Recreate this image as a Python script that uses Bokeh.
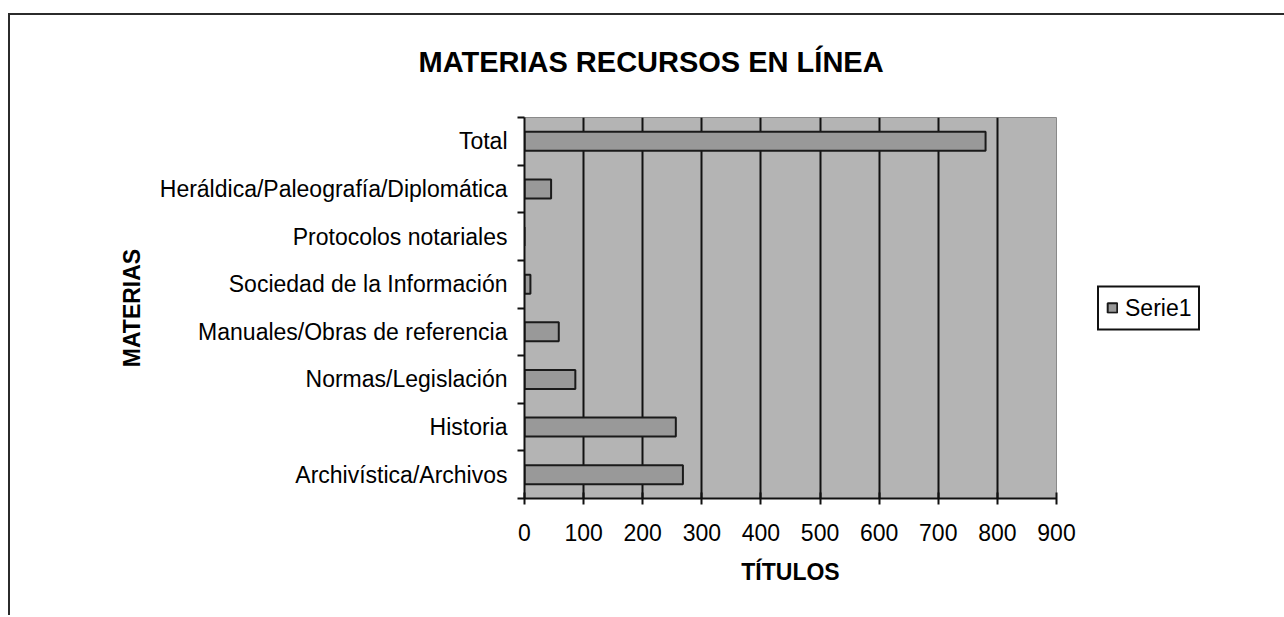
from bokeh.plotting import figure
from bokeh.models import (FixedTicker, Legend, LegendItem, ColumnDataSource, Range1d)
from bokeh.embed import file_html
from bokeh.resources import INLINE

# ---- data (top to bottom as in the chart) ----
categories = [
    "Total",
    "Heráldica/Paleografía/Diplomática",
    "Protocolos notariales",
    "Sociedad de la Información",
    "Manuales/Obras de referencia",
    "Normas/Legislación",
    "Historia",
    "Archivística/Archivos",
]
values = [780, 45, 0, 10, 58, 86, 256, 268]
x_ticks = [0, 100, 200, 300, 400, 500, 600, 700, 800, 900]
series_name = "Serie1"
title_text = "MATERIAS RECURSOS EN LÍNEA"
x_title = "TÍTULOS"
y_title = "MATERIAS"

n = len(categories)
# position 0 at bottom
ypos = [n - 1 - i + 0.5 for i in range(n)]
src = ColumnDataSource(dict(y=ypos, v=values, cat=categories))

FONT = "Liberation Sans"

p = figure(frame_width=532, frame_height=381, output_backend="svg", toolbar_location=None,
           x_range=Range1d(x_ticks[0], x_ticks[-1]), y_range=Range1d(0, n),
           min_border_left=516, min_border_right=220, min_border_top=117,
           min_border_bottom=117)
# chart-area border (top and left edges visible in the cropped reference)
p.styles = {"margin-left": "8px",
            "background-color": "white",
            "background-image": "linear-gradient(#2b2b2b, #2b2b2b), linear-gradient(#2b2b2b, #2b2b2b)",
            "background-size": "100% 2px, 2px 100%",
            "background-position": "0px 13px, 0px 13px",
            "background-repeat": "no-repeat, no-repeat"}

p.background_fill_color = "#b4b4b4"
p.border_fill_alpha = 0
p.outline_line_color = "#8a8a8a"
p.outline_line_width = 1

# title
p.title.text = title_text
p.title.align = "left"
p.title.offset = -106
p.title.text_font = FONT
p.title.text_font_style = "bold"
p.title.text_font_size = "29px"
p.title.text_color = "black"
p.title.standoff = 80

r = p.hbar(y="y", right="v", left=0, height=0.4, source=src,
           fill_color="#999999", line_color="#1a1a1a", line_width=2)

# grid
p.ygrid.visible = False
p.xgrid.ticker = FixedTicker(ticks=x_ticks[1:-1])
p.xgrid.grid_line_color = "#111111"
p.xgrid.grid_line_width = 2

# x axis
p.xaxis.ticker = FixedTicker(ticks=x_ticks)
p.xaxis.axis_line_color = "#111111"
p.xaxis.axis_line_width = 2
p.xaxis.major_tick_line_color = "#111111"
p.xaxis.major_tick_line_width = 2
p.xaxis.major_tick_in = 6
p.xaxis.major_tick_out = 6
p.xaxis.minor_tick_line_color = None
p.xaxis.major_label_text_font = FONT
p.xaxis.major_label_text_font_size = "23px"
p.xaxis.major_label_text_color = "black"
p.xaxis.major_label_standoff = 19
p.xaxis.axis_label = x_title
p.xaxis.axis_label_text_font = FONT
p.xaxis.axis_label_text_font_style = "bold"
p.xaxis.axis_label_text_font_size = "23px"
p.xaxis.axis_label_text_color = "black"
p.xaxis.axis_label_standoff = 15

# y axis: labels at centres, ticks at boundaries
p.yaxis.ticker = FixedTicker(ticks=ypos, minor_ticks=list(range(n + 1)))
p.yaxis.major_label_overrides = {y: c for y, c in zip(ypos, categories)}
p.yaxis.axis_line_color = "#111111"
p.yaxis.axis_line_width = 2
p.yaxis.major_tick_in = 0
p.yaxis.major_tick_out = 0
p.yaxis.minor_tick_in = 0
p.yaxis.minor_tick_out = 7
p.yaxis.minor_tick_line_color = "#111111"
p.yaxis.minor_tick_line_width = 2
p.yaxis.major_label_text_font = FONT
p.yaxis.major_label_text_font_size = "23px"
p.yaxis.major_label_text_color = "black"
p.yaxis.major_label_standoff = 10
p.yaxis.axis_label = y_title
p.yaxis.axis_label_text_font = FONT
p.yaxis.axis_label_text_font_style = "bold"
p.yaxis.axis_label_text_font_size = "23px"
p.yaxis.axis_label_text_color = "black"
p.yaxis.axis_label_standoff = 12

legend = Legend(items=[LegendItem(label=series_name, renderers=[r])],
                location="center_left", orientation="vertical",
                border_line_color="#111111", border_line_width=2,
                border_line_alpha=1,
                background_fill_color="white", background_fill_alpha=1,
                label_text_font=FONT, label_text_font_size="23px",
                label_text_color="black",
                glyph_width=12, glyph_height=12, padding=7, margin=41,
                label_standoff=7, spacing=0)
p.add_layout(legend, "right")

open("out.html", "w").write(file_html(p, INLINE))
